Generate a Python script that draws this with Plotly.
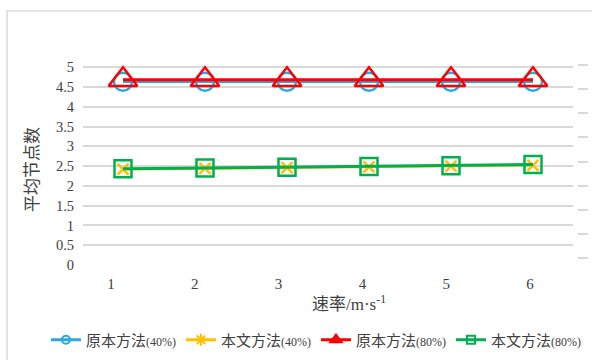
import plotly.graph_objects as go

# 速率 (m/s) categories and average node counts per method
speeds = [1, 2, 3, 4, 5, 6]
tick_labels = ["1", "2", "3", "4", "5", "6"]
orig_40 = [4.63, 4.63, 4.63, 4.63, 4.63, 4.63]
ours_40 = [2.42, 2.44, 2.46, 2.48, 2.50, 2.52]
orig_80 = [4.68, 4.68, 4.68, 4.68, 4.68, 4.68]
ours_80 = [2.43, 2.45, 2.47, 2.49, 2.51, 2.54]
y_ticks = [0, 0.5, 1, 1.5, 2, 2.5, 3, 3.5, 4, 4.5, 5]
y_ticktext = ["0", "0.5", "1", "1.5", "2", "2.5", "3", "3.5", "4", "4.5", "5"]
series_names = [
    "原本方法<span style='font-family:Liberation Serif;font-size:12px'>(40%)</span>",
    "本文方法<span style='font-family:Liberation Serif;font-size:12px'>(40%)</span>",
    "原本方法<span style='font-family:Liberation Serif;font-size:12px'>(80%)</span>",
    "本文方法<span style='font-family:Liberation Serif;font-size:12px'>(80%)</span>",
]

BLUE = "#2AA9E0"
YELLOW = "#FFC000"
RED = "#FF0000"
GREEN = "#00B050"
GRID = "#D9D9D9"

W, H = 592, 360
L, R_PLOT, R_AX = 83, 573, 577      # plot left, gridline end, right tick axis
T, B = 64, 265                      # plot top / bottom in px
Y_MAX = 5.08

fig = go.Figure()

# data traces (no legend entries)
fig.add_trace(go.Scatter(x=speeds, y=orig_40, mode="lines+markers", showlegend=False,
                         line=dict(color=BLUE, width=2.5),
                         marker=dict(symbol="circle-open", size=18, color=BLUE,
                                     line=dict(width=2.5, color=BLUE))))
fig.add_trace(go.Scatter(x=speeds, y=ours_40, mode="lines+markers", showlegend=False,
                         line=dict(color=YELLOW, width=2.5),
                         marker=dict(symbol="x-thin-open", size=11, color=YELLOW,
                                     line=dict(width=2.5, color=YELLOW))))
fig.add_trace(go.Scatter(x=speeds, y=orig_80, mode="lines+markers", showlegend=False,
                         line=dict(color=RED, width=3),
                         marker=dict(symbol="triangle-up-open", size=25, color=RED,
                                     line=dict(width=2.5, color=RED))))
fig.add_trace(go.Scatter(x=speeds, y=ours_80, mode="lines+markers", showlegend=False,
                         line=dict(color=GREEN, width=3),
                         marker=dict(symbol="square-open", size=17, color=GREEN,
                                     line=dict(width=2.5, color=GREEN))))

# legend entries
legend_styles = [
    dict(color=BLUE, symbol="circle-open", size=8),
    dict(color=YELLOW, symbol="asterisk-open", size=10),
    dict(color=RED, symbol="triangle-up", size=10),
    dict(color=GREEN, symbol="square-open", size=8),
]
for name, st in zip(series_names, legend_styles):
    fig.add_trace(go.Scatter(x=[None], y=[None], mode="lines+markers", name=name,
                             xaxis="x2", yaxis="y2",
                             line=dict(color=st["color"], width=3),
                             marker=dict(symbol=st["symbol"], size=st["size"], color=st["color"],
                                         line=dict(width=2, color=st["color"]))))

dom_x = [0, (R_PLOT - L) / (R_AX - L)]
x_lo = 1 - 40 / 82
x_hi = 6 + 40 / 82

fig.update_layout(
    width=W, height=H,
    margin=dict(l=L, r=W - R_AX, t=T, b=H - B, autoexpand=False),
    paper_bgcolor="white", plot_bgcolor="white",
    font=dict(family="Noto Sans CJK SC", color="#404040"),
    xaxis=dict(domain=dom_x, range=[x_lo, x_hi], showgrid=False, zeroline=False,
               showticklabels=False, showline=False, ticks=""),
    xaxis2=dict(domain=dom_x, overlaying="x", anchor="y",
                range=[1 - 28 / 83.8, 6 + 43 / 83.8],
                tickmode="array", tickvals=speeds, ticktext=tick_labels,
                showgrid=False, zeroline=False, showline=False, ticks="",
                ticklabelstandoff=8,
                tickfont=dict(family="Liberation Serif", size=15, color="#404040")),
    yaxis=dict(range=[0, Y_MAX], tickmode="array", tickvals=y_ticks, ticktext=y_ticktext,
               showgrid=True, gridcolor=GRID, gridwidth=1.5, zeroline=False,
               showline=False, ticks="", ticklabelstandoff=8,
               tickfont=dict(family="Liberation Serif", size=14.5, color="#404040")),
    yaxis2=dict(overlaying="y", anchor="free", position=1, side="right",
                range=[-7 / 24.125, (258 - T) / 24.125], tick0=0, dtick=1,
                showgrid=False, zeroline=False, showline=False, showticklabels=False,
                ticks="outside", ticklen=10, tickwidth=1.5, tickcolor=GRID),
    legend=dict(orientation="h", x=-0.075, xanchor="left",
                y=(B - 340) / (B - T), yanchor="middle",
                font=dict(family="Noto Sans CJK SC", size=15, color="#404040"),
                itemwidth=30, tracegroupgap=0, bgcolor="rgba(0,0,0,0)"),
    annotations=[
        dict(text="平均节点数", xref="paper", yref="paper",
             x=(30 - L) / (R_AX - L), y=(B - 170) / (B - T), textangle=-90,
             showarrow=False, xanchor="center", yanchor="middle",
             font=dict(family="Noto Sans CJK SC", size=17, color="#404040")),
        dict(text="速率<span style='font-family:Liberation Serif'>/m·s<sup>-1</sup></span>",
             xref="paper", yref="paper",
             x=(349 - L) / (R_AX - L), y=(B - 302) / (B - T),
             showarrow=False, xanchor="center", yanchor="middle",
             font=dict(family="Noto Sans CJK SC", size=17, color="#404040")),
    ],
    shapes=[
        dict(type="rect", xref="paper", yref="paper",
             x0=(7 - L) / (R_AX - L), x1=(610 - L) / (R_AX - L),
             y0=(B - 380) / (B - T), y1=(B - 11) / (B - T),
             line=dict(color=GRID, width=1.5), layer="below"),
    ],
)

fig.write_html("out.html")
